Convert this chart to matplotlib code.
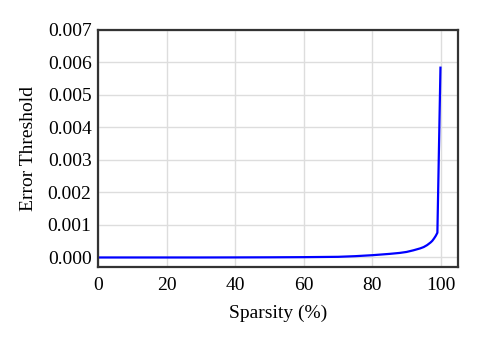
import matplotlib as mpl
mpl.use('Agg')
import matplotlib.pyplot as plt

plt.rcParams['font.family'] = 'Liberation Serif'
plt.rcParams['font.size'] = 14

sparsity = [0, 10, 20, 30, 40, 50, 60, 65, 70, 75, 80, 85, 88, 90, 92, 94,
            95, 96, 97, 97.5, 98, 98.5, 99.0, 99.9]
threshold = [0.0, 0.0, 0.0, 0.0, 0.000002, 0.000005, 0.00001, 0.000015,
             0.00002, 0.00004, 0.00007, 0.00011, 0.00014, 0.00017, 0.00022,
             0.00028, 0.00032, 0.00038, 0.00046, 0.00051, 0.00058, 0.00066,
             0.00076, 0.00583]

fig = plt.figure(figsize=(4.78, 3.40), dpi=100)
ax = fig.add_axes([0.206, 0.214, 0.752, 0.699])

ax.plot(sparsity, threshold, color='#0000ff', linewidth=1.6)

ax.set_xlim(0, 105)
ax.set_ylim(-0.0003, 0.007)
ax.set_xticks([0, 20, 40, 60, 80, 100])
ax.set_yticks([0.000, 0.001, 0.002, 0.003, 0.004, 0.005, 0.006, 0.007])
ax.yaxis.set_major_formatter(mpl.ticker.FormatStrFormatter('%.3f'))

ax.grid(True, color='#dddddd', linewidth=1.0)
ax.set_axisbelow(True)
ax.tick_params(axis='x', length=0, pad=7, labelsize=14)
ax.tick_params(axis='y', length=0, pad=5, labelsize=14)
for s in ax.spines.values():
    s.set_color('#333333')
    s.set_linewidth(1.6)

ax.set_xlabel('Sparsity (%)', fontsize=14, labelpad=8)
ax.set_ylabel('Error Threshold', fontsize=14, labelpad=8)

fig.savefig('out.png', dpi=100)
